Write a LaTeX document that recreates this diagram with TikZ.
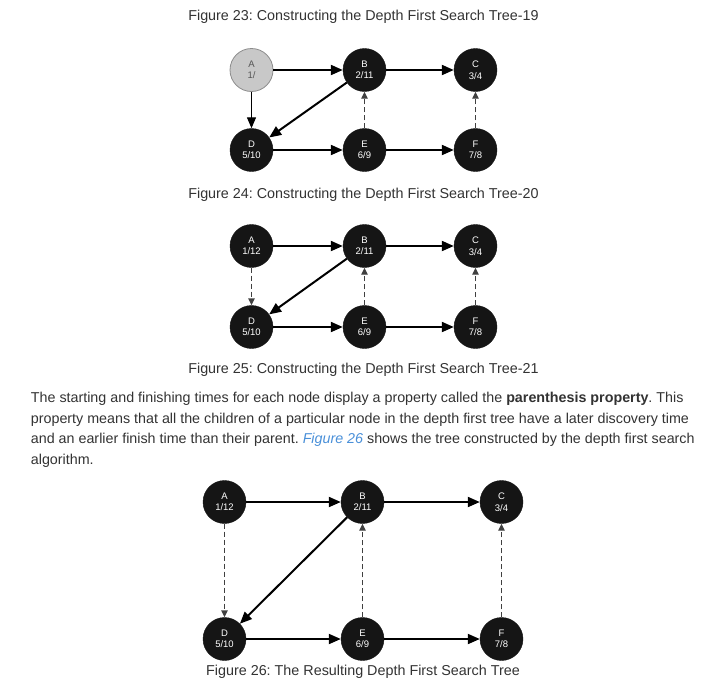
\documentclass[tikz,border=0pt]{standalone}
\usepackage{fontspec}
\setmainfont{Liberation Sans}
\usetikzlibrary{arrows.meta}
\definecolor{txt}{HTML}{333333}
\definecolor{nodebk}{HTML}{151515}
\definecolor{greyfill}{HTML}{C8C8C8}
\definecolor{greyline}{HTML}{8C8C8C}
\definecolor{greytext}{HTML}{555555}
\definecolor{linkblue}{HTML}{4A90D9}
\definecolor{dashgrey}{HTML}{404040}
\frenchspacing
\begin{document}
\begin{tikzpicture}[x=1pt,y=-1pt,
  vtx/.style={circle,fill=nodebk,draw=nodebk,minimum size=43pt,inner sep=0pt,
    text=white,font=\fontsize{9.5}{11.5}\selectfont,align=center},
  vgrey/.style={vtx,fill=greyfill,draw=greyline,line width=0.8pt,text=greytext},
  tree/.style={line width=2pt,-{Triangle[length=12pt,width=10pt]}},
  thintree/.style={line width=1.2pt,-{Triangle[length=11pt,width=9pt]}},
  back/.style={dashgrey,line width=1.4pt,dash pattern=on 5pt off 3pt,
    -{Triangle[length=7pt,width=6.5pt]}},
  figcap/.style={text=txt,font=\fontsize{14.35}{17}\selectfont,inner sep=0pt,anchor=base},
  bodyline/.style={text=txt,font=\fontsize{14.3}{17}\selectfont,inner sep=0pt,anchor=base west}
]
\useasboundingbox (0,0) rectangle (714,683);
\fill[white] (0,0) rectangle (714,683);

% ---------- Figure 23 ----------
\node[figcap] (cap23) at (363.5,20) {Figure 23: Constructing the Depth First Search Tree-19};
\node[vgrey] (a1) at (251.5,70) {A\\1/};
\node[vtx] (b1) at (364.5,70) {B\\2/11};
\node[vtx] (c1) at (475.5,70) {C\\3/4};
\node[vtx] (d1) at (251.5,150) {D\\5/10};
\node[vtx] (e1) at (364.5,150) {E\\6/9};
\node[vtx] (f1) at (475.5,150) {F\\7/8};
\draw[tree] (a1) -- (b1);
\draw[tree] (b1) -- (c1);
\draw[thintree] (a1) -- (d1);
\draw[tree] (b1) -- (d1);
\draw[tree] (d1) -- (e1);
\draw[tree] (e1) -- (f1);
\draw[back] (e1) -- (b1);
\draw[back] (f1) -- (c1);

% ---------- Figure 24 ----------
\node[figcap] (cap24) at (363.5,198) {Figure 24: Constructing the Depth First Search Tree-20};
\node[vtx] (a2) at (251.5,246) {A\\1/12};
\node[vtx] (b2) at (364.5,246) {B\\2/11};
\node[vtx] (c2) at (475.5,246) {C\\3/4};
\node[vtx] (d2) at (251.5,327) {D\\5/10};
\node[vtx] (e2) at (364.5,327) {E\\6/9};
\node[vtx] (f2) at (475.5,327) {F\\7/8};
\draw[tree] (a2) -- (b2);
\draw[tree] (b2) -- (c2);
\draw[back] (a2) -- (d2);
\draw[tree] (b2) -- (d2);
\draw[tree] (d2) -- (e2);
\draw[tree] (e2) -- (f2);
\draw[back] (e2) -- (b2);
\draw[back] (f2) -- (c2);

% ---------- Figure 25 caption + body text ----------
\node[figcap] (cap25) at (363.5,373) {Figure 25: Constructing the Depth First Search Tree-21};
\node[bodyline] (l1) at (30.7,402.5) {The starting and finishing times for each node display a property called the \textbf{parenthesis property}. This};
\node[bodyline] (l2) at (30.7,423) {property means that all the children of a particular node in the depth first tree have a later discovery time};
\node[bodyline] (l3) at (30.7,443.5) {and an earlier finish time than their parent. \textcolor{linkblue}{\itshape Figure 26} shows the tree constructed by the depth first search};
\node[bodyline] (l4) at (30.7,464) {algorithm.};

% ---------- Figure 26 ----------
\node[vtx] (a3) at (224.5,502) {A\\1/12};
\node[vtx] (b3) at (362.5,502) {B\\2/11};
\node[vtx] (c3) at (501.5,502) {C\\3/4};
\node[vtx] (d3) at (224.5,639) {D\\5/10};
\node[vtx] (e3) at (362.5,639) {E\\6/9};
\node[vtx] (f3) at (501.5,639) {F\\7/8};
\draw[tree] (a3) -- (b3);
\draw[tree] (b3) -- (c3);
\draw[back] (a3) -- (d3);
\draw[tree] (b3) -- (d3);
\draw[tree] (d3) -- (e3);
\draw[tree] (e3) -- (f3);
\draw[back] (e3) -- (b3);
\draw[back] (f3) -- (c3);
\node[figcap] (cap26) at (363,675.5) {Figure 26: The Resulting Depth First Search Tree};
\end{tikzpicture}
\end{document}
